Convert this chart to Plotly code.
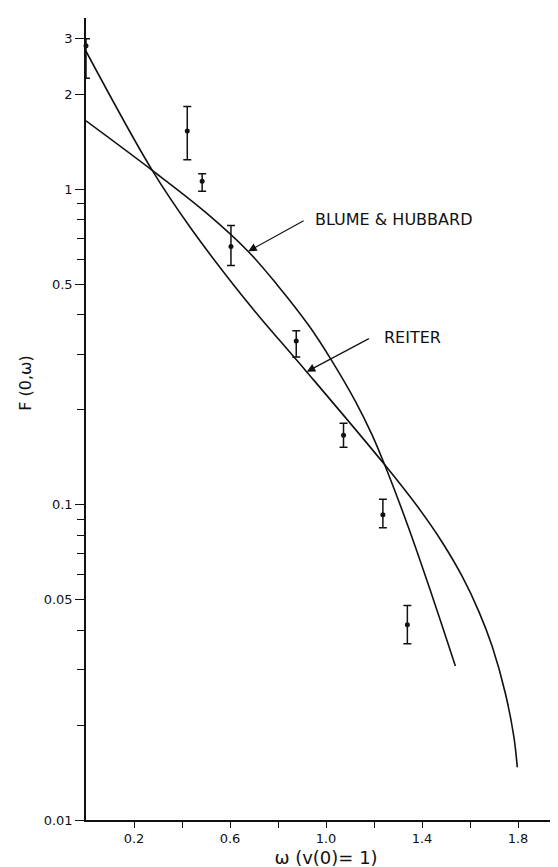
import numpy as np
import plotly.graph_objects as go

# Experimental points (omega, F) with upper/lower error limits
pt_x = [0.0, 0.422, 0.484, 0.604, 0.876, 1.073, 1.237, 1.339]
pt_y = [2.85, 1.53, 1.06, 0.658, 0.330, 0.166, 0.0929, 0.0416]
pt_hi = [3.00, 1.83, 1.12, 0.767, 0.356, 0.181, 0.104, 0.0479]
pt_lo = [2.25, 1.24, 0.986, 0.573, 0.294, 0.152, 0.0845, 0.0362]

# Blume & Hubbard curve
bh_x = [0.0, 0.276, 0.50, 0.676, 0.802, 0.927, 1.018, 1.122, 1.191, 1.244,
        1.344, 1.44, 1.539]
bh_y = [1.648, 1.148, 0.843, 0.635, 0.492, 0.371, 0.291, 0.213, 0.167, 0.134,
        0.0845, 0.0520, 0.0308]

# Reiter curve
re_x = [0.0, 0.276, 0.437, 0.626, 0.718, 0.919, 1.244, 1.386, 1.484, 1.567,
        1.637, 1.692, 1.748, 1.783, 1.797]
re_y = [2.74, 1.148, 0.752, 0.485, 0.398, 0.264, 0.134, 0.0975, 0.0760, 0.0593,
        0.0458, 0.0356, 0.0251, 0.0183, 0.0147]

x_tickvals = [0.2, 0.6, 1.0, 1.4, 1.8]
x_ticktext = ["0.2", "0.6", "1.0", "1.4", "1.8"]
x_minor = [0.4, 0.8, 1.2, 1.6]
y_tickvals = [0.01, 0.05, 0.1, 0.5, 1, 2, 3]
y_ticktext = ["0.01", "0.05", "0.1", "0.5", "1", "2", "3"]
y_minor = [0.02, 0.03, 0.04, 0.06, 0.07, 0.08, 0.09, 0.2, 0.3, 0.4, 0.6, 0.7, 0.8, 0.9]

FONT = "DejaVu Sans"
BLACK = "#111111"

fig = go.Figure()
fig.add_trace(go.Scatter(x=bh_x, y=bh_y, mode="lines",
                         line=dict(color=BLACK, width=1.6, shape="spline", smoothing=1.0),
                         showlegend=False, hoverinfo="skip"))
fig.add_trace(go.Scatter(x=re_x, y=re_y, mode="lines",
                         line=dict(color=BLACK, width=1.6, shape="spline", smoothing=1.0),
                         showlegend=False, hoverinfo="skip"))
fig.add_trace(go.Scatter(
    x=pt_x, y=pt_y, mode="markers",
    marker=dict(color=BLACK, size=5),
    error_y=dict(type="data", symmetric=False,
                 array=[h - y for h, y in zip(pt_hi, pt_y)],
                 arrayminus=[y - l for l, y in zip(pt_lo, pt_y)],
                 color=BLACK, thickness=1.5, width=4),
    cliponaxis=False, showlegend=False))

# label annotations (log axis -> log10 coordinates)
bh_tip = (0.676, 0.636)
bh_bend = (0.913, 0.799)
bh_text = 0.945
re_tip = (0.920, 0.264)
re_bend = (1.185, 0.338)
re_text = 1.232

for tip, bend, tx, label in [(bh_tip, bh_bend, bh_text, "BLUME &amp; HUBBARD"),
                             (re_tip, re_bend, re_text, "REITER")]:
    fig.add_annotation(x=tip[0], y=np.log10(tip[1]), ax=bend[0], ay=np.log10(bend[1]),
                       axref="x", ayref="y", xref="x", yref="y", text="",
                       showarrow=True, arrowhead=2, arrowsize=1.4, arrowwidth=1.2,
                       arrowcolor=BLACK)
    fig.add_shape(type="line", xref="x", yref="y", x0=bend[0], x1=tx - 0.006,
                  y0=np.log10(bend[1]), y1=np.log10(bend[1]),
                  line=dict(color=BLACK, width=1.2))
    fig.add_annotation(x=tx, y=np.log10(bend[1]), xref="x", yref="y", text=label,
                       showarrow=False, xanchor="left", yanchor="middle",
                       font=dict(family=FONT, size=16, color=BLACK))

# y-axis title placed as in the original figure
fig.add_annotation(x=-0.125, y=0.544, xref="paper", yref="paper", text="F (0,ω)",
                   textangle=-90, showarrow=False, xanchor="center", yanchor="middle",
                   font=dict(family=FONT, size=16, color=BLACK))

fig.update_layout(
    width=558, height=867,
    margin=dict(l=78, r=0, t=10, b=55),
    paper_bgcolor="white", plot_bgcolor="white",
    font=dict(family=FONT, color=BLACK),
    showlegend=False,
)
fig.update_xaxes(
    range=[0, 2.0], showgrid=False, zeroline=False,
    showline=True, linecolor=BLACK, linewidth=1.6,
    ticks="outside", ticklen=6, tickwidth=1.4, tickcolor=BLACK,
    tickmode="array", tickvals=x_tickvals, ticktext=x_ticktext,
    tickfont=dict(family=FONT, size=13, color=BLACK),
    minor=dict(tickmode="array", tickvals=x_minor, ticks="outside", ticklen=6,
               tickwidth=1.4, tickcolor=BLACK, showgrid=False),
    title=dict(text="ω (v(0)= 1)", font=dict(family=FONT, size=18, color=BLACK), standoff=6),
)
fig.update_yaxes(
    type="log", range=[-2, 0.543], showgrid=False, zeroline=False,
    showline=True, linecolor=BLACK, linewidth=1.6,
    ticks="outside", ticklen=9, tickwidth=1.4, tickcolor=BLACK,
    tickmode="array", tickvals=y_tickvals, ticktext=y_ticktext,
    tickfont=dict(family=FONT, size=13, color=BLACK),
    minor=dict(tickmode="array", tickvals=y_minor, ticks="outside", ticklen=7,
               tickwidth=1.4, tickcolor=BLACK, showgrid=False),
)

fig.write_html("out.html")
